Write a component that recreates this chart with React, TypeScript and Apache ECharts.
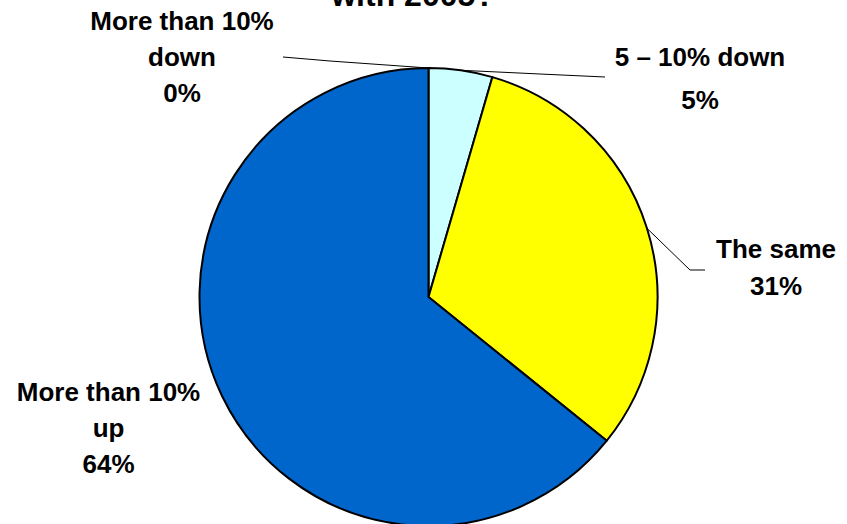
import React, { useEffect, useRef } from "react";
import * as echarts from "echarts";

const titleText = "with 2005?";
const categories = ["More than 10%\ndown", "5 – 10% down", "The same", "More than 10%\nup"];
const values = [0, 4.5, 31.3, 64.2];
const colors = ["#9999FF", "#CCFFFF", "#FFFF00", "#0066CC"];

const CX = 428.5;
const CY = 297;
const R = 229;

// label block centres (layout only)
const labelPos: [number, number][] = [
  [182, 57],
  [700, 78.5],
  [776, 267.5],
  [108.5, 428],
];
const labelLineHeights = [36, 43, 37, 36];

export default function App() {
  const ref = useRef<HTMLDivElement>(null);
  useEffect(() => {
    document.body.style.margin = "0";
    const chart = echarts.init(ref.current!, null, { renderer: "svg" });
    const total = values.reduce((a, b) => a + b, 0);
    const midAngles: number[] = [];
    let acc = 0;
    values.forEach((v) => {
      midAngles.push(((acc + v / 2) / total) * Math.PI * 2);
      acc += v;
    });
    const edge = (i: number): [number, number] => [
      CX + R * Math.sin(midAngles[i]),
      CY - R * Math.cos(midAngles[i]),
    ];
    const elbows: [number, number][][] = [
      [[330, 61], [283, 57]],
      [[540, 74], [605, 77]],
      [[690, 270], [705, 270]],
      [],
    ];
    chart.setOption({
      animation: false,
      backgroundColor: "#ffffff",
      title: {
        text: titleText,
        left: 413,
        top: -21,
        padding: 0,
        textAlign: "center",
        textStyle: {
          fontFamily: "Liberation Sans, Arial, sans-serif",
          fontSize: 32,
          fontWeight: "bold",
          color: "#000",
        },
      },
      series: [
        {
          type: "pie",
          center: [CX, CY],
          radius: R,
          startAngle: 90,
          clockwise: true,
          avoidLabelOverlap: false,
          percentPrecision: 0,
          emphasis: { disabled: true },
          itemStyle: { borderColor: "#000", borderWidth: 2 },
          label: {
            show: true,
            formatter: "{b}\n{d}%",
            fontFamily: "Liberation Sans, Arial, sans-serif",
            fontSize: 26,
            fontWeight: "bold",
            color: "#000",
            align: "center",
          },
          labelLine: {
            show: true,
            lineStyle: { color: "#000", width: 1 },
          },
          labelLayout: (params: any) => {
            const i = params.dataIndex;
            const out: any = {
              x: labelPos[i][0],
              y: labelPos[i][1],
              align: "center",
              verticalAlign: "middle",
            };
            if (elbows[i].length) {
              out.labelLinePoints = [edge(i), ...elbows[i]];
            }
            return out;
          },
          data: categories.map((name, i) => ({
            name,
            value: values[i],
            itemStyle: { color: colors[i] },
            label: { lineHeight: labelLineHeights[i] },
            labelLine: { show: elbows[i].length > 0 },
          })),
        },
      ],
    });
    return () => chart.dispose();
  }, []);
  return <div ref={ref} style={{ width: 847, height: 524 }} />;
}
